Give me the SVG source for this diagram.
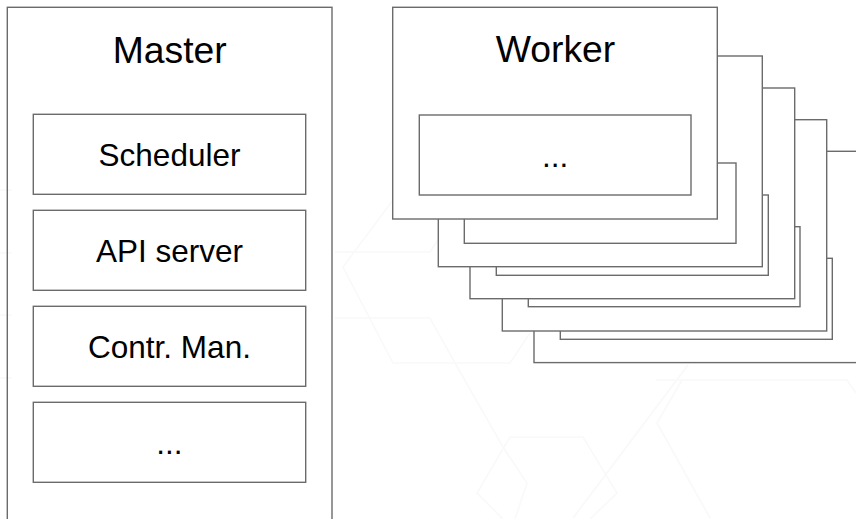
<svg xmlns="http://www.w3.org/2000/svg" width="856" height="519" viewBox="0 0 856 519">
  <style>
    .box { fill: #ffffff; stroke: #6b6b6b; stroke-width: 1.4; }
    .open { fill: none; stroke: #6b6b6b; stroke-width: 1.4; }
    .title { font-family: "Liberation Sans", Arial, sans-serif; font-size: 37.3px; fill: #000000; text-anchor: middle; }
    .label { font-family: "Liberation Sans", Arial, sans-serif; font-size: 31.5px; fill: #000000; text-anchor: middle; }
    .bg { fill: none; stroke: #f9f9f9; stroke-width: 1.6; }
  </style>
  <rect x="0" y="0" width="856" height="519" fill="#ffffff"/>

  <!-- faint background pattern -->
  <g id="background-pattern" class="bg">
    <polyline points="0,190 12,190"/>
    <polyline points="0,253 12,253"/>
    <polyline points="0,315 12,315"/>
    <polyline points="0,378 12,378"/>
    <polyline points="393,200 343,267 393,363 510,363 530,333"/>
    <polyline points="335,252 430,252 455,215"/>
    <polyline points="335,318 430,318 455,363 503,447 527,483 515,519"/>
    <polyline points="503,519 477,493 510,437 583,437 617,493 590,519"/>
    <polyline points="688,365 573,518"/>
    <polyline points="682,380 657,423 710,518"/>
    <polyline points="656,380 847,380 856,393"/>
  </g>

  <!-- Master node -->
  <g id="master">
    <rect class="open" x="7.3" y="7.3" width="324.7" height="530"/>
    <text class="title" x="169.7" y="62.7">Master</text>
    <g id="scheduler">
      <rect class="open" x="33.3" y="114.3" width="272.4" height="80"/>
      <text class="label" x="169.5" y="165.7">Scheduler</text>
    </g>
    <g id="api-server">
      <rect class="open" x="33.3" y="210.3" width="272.4" height="80"/>
      <text class="label" x="169.5" y="261.6">API server</text>
    </g>
    <g id="controller-manager">
      <rect class="open" x="33.3" y="306.3" width="272.4" height="80"/>
      <text class="label" x="169.5" y="357.7">Contr. Man.</text>
    </g>
    <g id="master-more">
      <rect class="open" x="33.3" y="402.3" width="272.4" height="80"/>
      <text class="label" x="169.5" y="453.5">...</text>
    </g>
  </g>

  <!-- Worker stack, back to front -->
  <g id="worker-4">
    <rect class="box" x="534" y="151.3" width="324.5" height="211.3"/>
    <rect class="box" x="560.3" y="258.3" width="272" height="81"/>
  </g>
  <g id="worker-3">
    <rect class="box" x="502.3" y="119.7" width="324.4" height="211.3"/>
    <rect class="box" x="528.3" y="226.7" width="271.7" height="80"/>
  </g>
  <g id="worker-2">
    <rect class="box" x="470" y="88" width="324.7" height="210.7"/>
    <rect class="box" x="496.3" y="195" width="272" height="80.3"/>
  </g>
  <g id="worker-1">
    <rect class="box" x="438.3" y="56" width="324" height="210.7"/>
    <rect class="box" x="464.3" y="163" width="271.7" height="80.3"/>
  </g>
  <g id="worker">
    <rect class="box" x="392.7" y="7.3" width="324.6" height="211.7"/>
    <text class="title" x="555.5" y="61.7">Worker</text>
    <g id="worker-more">
      <rect class="box" x="419.3" y="115" width="271.7" height="80"/>
      <text class="label" x="555.2" y="166.5">...</text>
    </g>
  </g>

  <g id="connectors"></g>
</svg>
